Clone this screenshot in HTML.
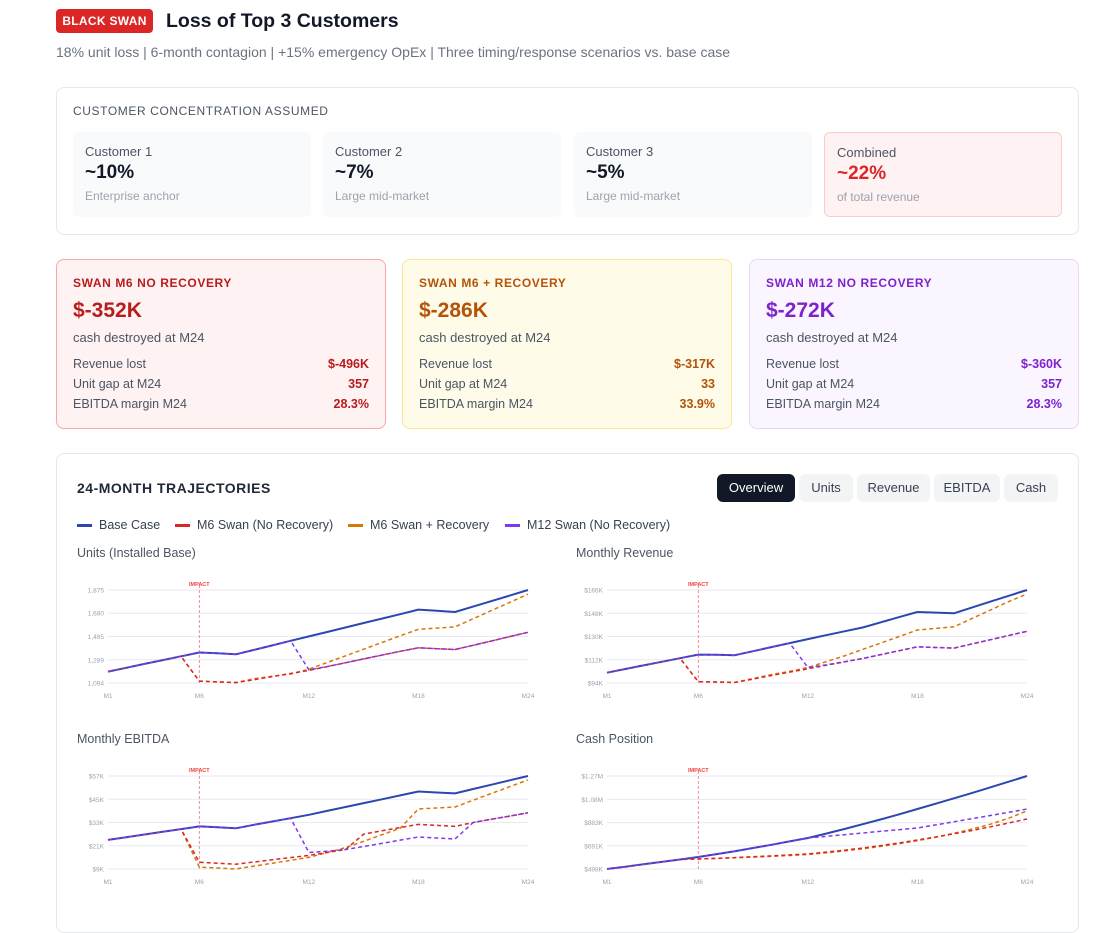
<!DOCTYPE html>
<html><head><meta charset="utf-8">
<style>
*{box-sizing:border-box;margin:0;padding:0}
body{width:1117px;height:914px;overflow:hidden;background:#fff;font-family:"Liberation Sans",sans-serif;color:#111827;position:relative}
.abs{position:absolute}
.badge{left:56px;top:9px;width:97px;height:24px;background:#dc2626;color:#fff;font-size:12px;font-weight:bold;border-radius:4px;text-align:center;line-height:24px;letter-spacing:.3px}
.title{left:166px;top:9px;font-size:19.5px;font-weight:bold;line-height:24px}
.sub{left:56px;top:44px;font-size:14px;color:#6b7280}
.card{border:1px solid #e5e7eb;border-radius:8px;background:#fff}
.lbl{font-size:12px;color:#4b5563;letter-spacing:.6px;font-weight:bold}
.tile{top:132px;width:238px;height:85px;background:#f9fafb;border-radius:6px;padding:12px}
.tile .a{font-size:13px;color:#4b5563}
.tile .v{font-size:19px;font-weight:bold;margin-top:3px}
.tile .s{font-size:12px;color:#9ca3af;margin-top:5px}
.sc{top:259px;width:330px;height:170px;border-radius:8px;padding:16px}
.sc .t{font-size:12px;font-weight:bold;letter-spacing:.6px}
.sc .v{font-size:21px;font-weight:bold;margin-top:9px}
.sc .d{font-size:13px;color:#4b5563;margin-top:7px}
.sc .r{display:flex;justify-content:space-between;font-size:12.5px;color:#4b5563;margin-top:6px}
.sc .r:first-of-type{margin-top:0}
.sc .rows{margin-top:12px}
.sc .r b{font-weight:bold}
.btn{top:474px;height:28px;border-radius:6px;background:#f3f4f6;color:#374151;font-size:13px;text-align:center;line-height:28px}
.leg{top:518px;font-size:12.5px;color:#374151;display:flex;align-items:center}
.leg i{display:inline-block;width:15px;height:3px;margin-right:7px}
.ct{font-size:12.5px;color:#4b5563}
svg text{font-family:"Liberation Sans",sans-serif}
</style></head><body>
<div class="abs badge">BLACK SWAN</div>
<div class="abs title">Loss of Top 3 Customers</div>
<div class="abs sub">18% unit loss | 6-month contagion | +15% emergency OpEx | Three timing/response scenarios vs. base case</div>

<div class="abs card" style="left:56px;top:87px;width:1023px;height:148px"></div>
<div class="abs lbl" style="left:73px;top:104px;font-weight:normal;color:#4b5563">CUSTOMER CONCENTRATION ASSUMED</div>
<div class="abs tile" style="left:73px"><div class="a">Customer 1</div><div class="v">~10%</div><div class="s">Enterprise anchor</div></div>
<div class="abs tile" style="left:323px"><div class="a">Customer 2</div><div class="v">~7%</div><div class="s">Large mid-market</div></div>
<div class="abs tile" style="left:574px"><div class="a">Customer 3</div><div class="v">~5%</div><div class="s">Large mid-market</div></div>
<div class="abs tile" style="left:824px;background:#fef2f2;border:1px solid #fecaca"><div class="a">Combined</div><div class="v" style="color:#dc2626">~22%</div><div class="s">of total revenue</div></div>

<div class="abs sc" style="left:56px;background:#fef2f2;border:1px solid #fca5a5">
<div class="t" style="color:#b91c1c">SWAN M6 NO RECOVERY</div><div class="v" style="color:#b91c1c">$-352K</div><div class="d">cash destroyed at M24</div>
<div class="rows"><div class="r"><span>Revenue lost</span><b style="color:#b91c1c">$-496K</b></div><div class="r"><span>Unit gap at M24</span><b style="color:#b91c1c">357</b></div><div class="r"><span>EBITDA margin M24</span><b style="color:#b91c1c">28.3%</b></div></div></div>
<div class="abs sc" style="left:402px;background:#fefbe8;border:1px solid #fde68a">
<div class="t" style="color:#b45309">SWAN M6 + RECOVERY</div><div class="v" style="color:#b45309">$-286K</div><div class="d">cash destroyed at M24</div>
<div class="rows"><div class="r"><span>Revenue lost</span><b style="color:#b45309">$-317K</b></div><div class="r"><span>Unit gap at M24</span><b style="color:#b45309">33</b></div><div class="r"><span>EBITDA margin M24</span><b style="color:#b45309">33.9%</b></div></div></div>
<div class="abs sc" style="left:749px;background:#faf5ff;border:1px solid #e9d5ff">
<div class="t" style="color:#7e22ce">SWAN M12 NO RECOVERY</div><div class="v" style="color:#7e22ce">$-272K</div><div class="d">cash destroyed at M24</div>
<div class="rows"><div class="r"><span>Revenue lost</span><b style="color:#7e22ce">$-360K</b></div><div class="r"><span>Unit gap at M24</span><b style="color:#7e22ce">357</b></div><div class="r"><span>EBITDA margin M24</span><b style="color:#7e22ce">28.3%</b></div></div></div>

<div class="abs card" style="left:56px;top:453px;width:1023px;height:480px"></div>
<div class="abs" style="left:77px;top:480px;font-size:14px;font-weight:bold;letter-spacing:.5px;color:#1f2937">24-MONTH TRAJECTORIES</div>
<div class="abs btn" style="left:717px;width:78px;background:#111827;color:#fff">Overview</div>
<div class="abs btn" style="left:799px;width:54px">Units</div>
<div class="abs btn" style="left:857px;width:73px">Revenue</div>
<div class="abs btn" style="left:934px;width:66px">EBITDA</div>
<div class="abs btn" style="left:1004px;width:54px">Cash</div>
<div class="abs leg" style="left:77px"><i style="background:#2d46b0"></i>Base Case</div>
<div class="abs leg" style="left:175px"><i style="background:#dc2626"></i>M6 Swan (No Recovery)</div>
<div class="abs leg" style="left:348px"><i style="background:#d97706"></i>M6 Swan + Recovery</div>
<div class="abs leg" style="left:505px"><i style="background:#7c3aed"></i>M12 Swan (No Recovery)</div>
<div class="abs ct" style="left:77px;top:546px">Units (Installed Base)</div>
<div class="abs ct" style="left:576px;top:546px">Monthly Revenue</div>
<div class="abs ct" style="left:77px;top:732px">Monthly EBITDA</div>
<div class="abs ct" style="left:576px;top:732px">Cash Position</div>

<svg id="chartsvg" class="abs" style="left:0;top:0" width="1117" height="914"></svg>

<script>
const months = ["M1","M2","M3","M4","M5","M6","M7","M8","M9","M10","M11","M12","M13","M14","M15","M16","M17","M18","M19","M20","M21","M22","M23","M24"];
const xTickLabels = ["M1","M6","M12","M18","M24"];
const impactMonth = 6;

const unitsTicks = [1094,1289,1485,1680,1875];
const unitsTickLabels = ["1,094","1,289","1,485","1,680","1,875"];
const unitsBase = [1190,1222,1254,1286,1318,1350,1343,1335,1372,1410,1448,1485,1522,1560,1598,1635,1672,1710,1700,1690,1736,1782,1828,1875];
const unitsM6 = [1190,1222,1254,1286,1318,1110,1103,1097,1122,1148,1174,1200,1232,1264,1296,1328,1360,1390,1382,1375,1411,1447,1484,1520];
const unitsM6R = [1190,1222,1254,1286,1318,1110,1103,1097,1130,1150,1170,1210,1266,1322,1378,1434,1490,1545,1555,1565,1634,1703,1771,1840];
const unitsM12 = [1190,1222,1254,1286,1318,1350,1343,1335,1372,1410,1448,1205,1232,1264,1296,1328,1360,1390,1382,1375,1411,1447,1484,1520];

const revTicks = [94,112,130,148,166];
const revTickLabels = ["$94K","$112K","$130K","$148K","$166K"];
const revBase = [102,104.8,107.6,110.4,113.2,116,115.8,115.5,118.6,121.8,124.9,128,131,134,137,141,145,149,148.5,148,152.5,157,161.5,166];
const revM6 = [102,104.8,107.6,110.4,113.2,95,94.8,94.5,97,99.8,102.4,105,107.7,110.3,113,116,119,122,121.5,121,124.3,127.5,130.8,134];
const revM6R = [102,104.8,107.6,110.4,113.2,95,94.8,94.5,97.5,100.5,103,106,110.5,115,120,125,130,135,136.3,137.5,144,150.5,157,163];
const revM12 = [102,104.8,107.6,110.4,113.2,116,115.8,115.5,118.6,121.8,124.9,106,108,110.5,113,116,119,122,121.5,121,124.3,127.5,130.8,134];

const ebTicks = [9,21,33,45,57];
const ebTickLabels = ["$9K","$21K","$33K","$45K","$57K"];
const ebBase = [24,25.4,26.8,28.2,29.6,31,30.5,30,31.8,33.5,35.2,37,39,41,43,45,47,49,48.5,48,50.3,52.5,54.8,57];
const ebM6 = [24,25.4,26.8,28.2,29.6,12.5,12,11.5,12.6,13.8,14.9,16,17.5,19,27,28.7,30.4,32,31.5,31,33,34.7,36.3,38];
const ebM6R = [24,25.4,26.8,28.2,29.6,10,9.5,9,10.5,12,13.5,15,17.5,20,23.3,26.7,30,40,40.5,41,44.5,48,51.5,55];
const ebM12 = [24,25.4,26.8,28.2,29.6,31,30.5,30,31.8,33.5,35.2,17.5,18.2,19,20.6,22.2,23.9,25.5,25,24.5,33,34.7,36.3,38];

const cashTicks = [498,691,883,1076,1270];
const cashTickLabels = ["$498K","$691K","$883K","$1.08M","$1.27M"];
const cashBase = [498,517,537,557,577,598,622,646,672,699,727,755,792,830,870,910,952,996,1040,1085,1130,1176,1223,1270];
const cashM6 = [498,517,537,557,577,581,587,593,600,607,615,623,638,654,672,692,715,739,764,790,818,848,880,913];
const cashM6R = [498,517,537,557,577,581,586,591,597,603,610,618,632,648,666,686,708,733,762,794,830,870,920,980];
const cashM12 = [498,517,537,557,577,598,622,646,672,699,727,755,769,783,797,811,824,838,864,890,916,942,969,996];

const svg = document.getElementById('chartsvg');
const NS = 'http://www.w3.org/2000/svg';
function mk(tag, attrs){const e=document.createElementNS(NS,tag);for(const k in attrs)e.setAttribute(k,attrs[k]);svg.appendChild(e);return e;}

function drawChart(name, x0, x1, yTop, yBot, ticks, tickLabels, series){
  const lo = ticks[0], hi = ticks[ticks.length-1];
  const xs = i => x0 + (x1-x0)*i/(months.length-1);
  const ys = v => yBot - (v-lo)/(hi-lo)*(yBot-yTop);
  ticks.forEach((t,i)=>{
    const g = mk('line',{x1:x0,x2:x1,y1:ys(t),y2:ys(t),stroke:'#e8eaf0','stroke-width':1});
    
    
    const tx = mk('text',{x:x0-4,y:ys(t)+2.5,'text-anchor':'end','font-size':6.5,fill:'#9ca3af'});
    tx.textContent = tickLabels[i];
    
    
  });
  xTickLabels.forEach(l=>{
    const idx = months.indexOf(l);
    const tx = mk('text',{x:xs(idx),y:yBot+15,'text-anchor':'middle','font-size':6.5,fill:'#9ca3af'});
    tx.textContent = l;
    
    
  });
  const ix = xs(impactMonth-1);
  const il = mk('line',{x1:ix,x2:ix,y1:yTop-5,y2:yBot+2,stroke:'#f87171','stroke-width':0.8,'stroke-dasharray':'3,2'});
  
  
  const it = mk('text',{x:ix,y:yTop-4,'text-anchor':'middle','font-size':5.5,'font-weight':'bold',fill:'#ef4444'});
  it.textContent='IMPACT';
  
  
  series.forEach(s=>{
    const d = s.vals.map((v,i)=>(i?'L':'M')+xs(i).toFixed(1)+','+ys(v).toFixed(1)).join(' ');
    const p = mk('path',{d:d,fill:'none',stroke:s.color,'stroke-width':s.dash?1.5:2,'stroke-dasharray':s.dash?'4,3':'none','stroke-linejoin':'round'});
    
    
  });
}
function ser(b,m6,m6r,m12){return [
  {key:'base',vals:b,color:'#2d46b0',dash:false},
  {key:'m6-recovery',vals:m6r,color:'#d97706',dash:true},
  {key:'m6-no-recovery',vals:m6,color:'#dc2626',dash:true},
  {key:'m12-no-recovery',vals:m12,color:'#7c3aed',dash:true}];}
drawChart('units',108,528,590,683,unitsTicks,unitsTickLabels,ser(unitsBase,unitsM6,unitsM6R,unitsM12));
drawChart('revenue',607,1027,590,683,revTicks,revTickLabels,ser(revBase,revM6,revM6R,revM12));
drawChart('ebitda',108,528,776,869,ebTicks,ebTickLabels,ser(ebBase,ebM6,ebM6R,ebM12));
drawChart('cash',607,1027,776,869,cashTicks,cashTickLabels,ser(cashBase,cashM6,cashM6R,cashM12));
</script>
</body></html>
